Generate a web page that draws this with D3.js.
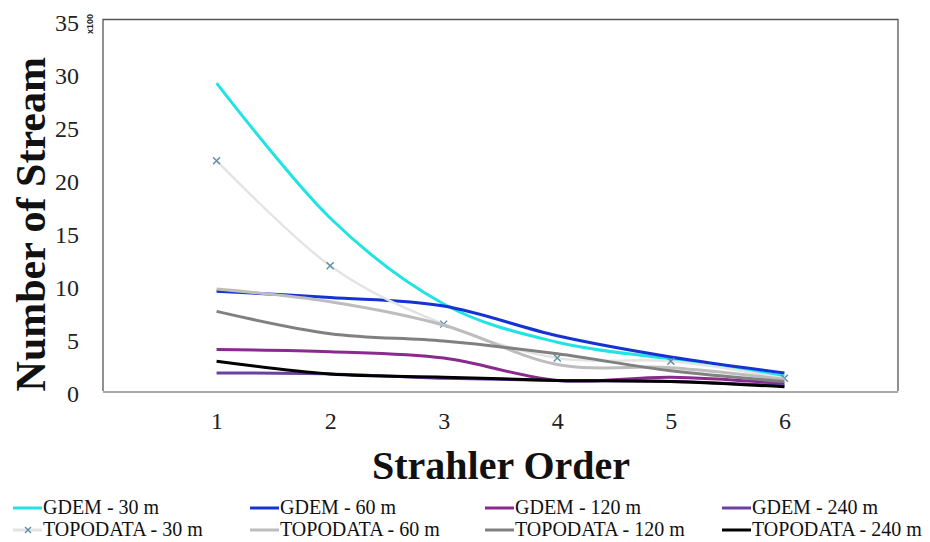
<!DOCTYPE html>
<html>
<head>
<meta charset="utf-8">
<script src="https://cdn.jsdelivr.net/npm/d3@7"></script>
<style>
  html, body { margin: 0; padding: 0; background: #fff; }
  svg { display: block; }
</style>
</head>
<body>
<svg id="chart" width="930" height="542"></svg>
<script>
// ---- data ----
const orders = [1, 2, 3, 4, 5, 6];
const yTicks = [0, 5, 10, 15, 20, 25, 30, 35];
const seriesNames = ["GDEM - 30 m", "GDEM - 60 m", "GDEM - 120 m", "GDEM - 240 m",
                     "TOPODATA - 30 m", "TOPODATA - 60 m", "TOPODATA - 120 m", "TOPODATA - 240 m"];
const gdem30  = [29.0, 16.3, 8.2, 4.6, 3.0, 1.4];
const gdem60  = [9.4, 8.8, 8.0, 5.2, 3.2, 1.7];
const gdem120 = [3.9, 3.7, 3.1, 1.0, 1.3, 0.7];
const gdem240 = [1.7, 1.6, 1.2, 1.0, 0.9, 0.5];
const topo30  = [21.7, 11.8, 6.3, 3.1, 2.8, 1.2];
const topo60  = [9.6, 8.4, 6.2, 2.5, 2.2, 1.1];
const topo120 = [7.5, 5.4, 4.7, 3.5, 1.9, 0.9];
const topo240 = [2.8, 1.6, 1.3, 1.0, 0.9, 0.4];
const colors = ["#22e3e3", "#1533d2", "#8a2a8e", "#6a40a3",
                "#e3e3e3", "#bdbdbd", "#808080", "#000000"];

const seriesValues = [gdem30, gdem60, gdem120, gdem240, topo30, topo60, topo120, topo240];
const series = seriesNames.map((name, i) => ({
  name, color: colors[i], values: seriesValues[i], markers: name === "TOPODATA - 30 m"
}));

// ---- layout ----
const svg = d3.select("#chart");
const L = 103, R = 898, T = 19.5, B = 391;
const x = d3.scaleLinear().domain([0, 7]).range([L, R]);
const y = d3.scaleLinear().domain([0, 35]).range([B, T]);
const serif = "'Liberation Serif', 'Times New Roman', serif";

// frame
svg.append("path")
  .attr("d", `M${L},${B} V${T} H${R} V${B}`)
  .attr("fill", "none").attr("stroke", "#555").attr("stroke-width", 1.3);

// y axis labels
const yAxis = d3.axisLeft(y).tickValues(yTicks).tickSize(0).tickPadding(0);
const yg = svg.append("g").attr("transform", `translate(${L - 24},3)`).call(yAxis);
yg.select(".domain").remove();
yg.selectAll("text").attr("font-family", serif).attr("font-size", 24).attr("fill", "#222");

// x axis labels
const xAxis = d3.axisBottom(x).tickValues(orders).tickSize(0).tickPadding(0).tickFormat(d3.format("d"));
const xg = svg.append("g").attr("transform", `translate(0,${B + 21})`).call(xAxis);
xg.select(".domain").remove();
xg.selectAll("text").attr("font-family", serif).attr("font-size", 24).attr("fill", "#222");

// bottom axis line
svg.append("line").attr("x1", L).attr("x2", R).attr("y1", B + 1).attr("y2", B + 1)
  .attr("stroke", "#aaa").attr("stroke-width", 2);

// x100 label
svg.append("text").attr("transform", `translate(93,24) rotate(-90)`)
  .attr("text-anchor", "middle").attr("font-family", "Arial, sans-serif")
  .attr("font-size", 9).attr("font-weight", "bold").attr("fill", "#222").text("x100");

// axis titles
svg.append("text").attr("transform", `translate(45,${(T + B) / 2 + 19}) rotate(-90)`)
  .attr("text-anchor", "middle").attr("font-family", serif).attr("font-weight", "bold")
  .attr("font-size", 42).attr("fill", "#111").text("Number of Stream");
svg.append("text").attr("x", 501).attr("y", 479)
  .attr("text-anchor", "middle").attr("font-family", serif).attr("font-weight", "bold")
  .attr("font-size", 40).attr("fill", "#111").text("Strahler Order");

// lines
const line = d3.line()
  .x((d, i) => x(orders[i]))
  .y(d => y(d))
  .curve(d3.curveCardinal.tension(0));

const xMark = (g, cx, cy, s) => {
  g.append("path")
    .attr("d", `M${cx - s},${cy - s} L${cx + s},${cy + s} M${cx - s},${cy + s} L${cx + s},${cy - s}`)
    .attr("stroke", "#5b8fa6").attr("stroke-width", 1.4).attr("fill", "none");
};

const lg = svg.append("g");
series.forEach(s => {
  lg.append("path").datum(s.values)
    .attr("d", line).attr("fill", "none")
    .attr("stroke", s.color).attr("stroke-width", s.markers ? 2.4 : 3)
    .attr("stroke-linecap", "butt");
  if (s.markers) {
    s.values.forEach((v, i) => xMark(lg, x(orders[i]), y(v), 3.5));
  }
});

// legend
const colX = [13, 250, 485, 722];
const rowY = [508, 530];
series.forEach((s, i) => {
  const c = i % 4, r = Math.floor(i / 4);
  const g = svg.append("g");
  g.append("line").attr("x1", colX[c]).attr("x2", colX[c] + 29)
    .attr("y1", rowY[r]).attr("y2", rowY[r])
    .attr("stroke", s.color).attr("stroke-width", 3);
  if (s.markers) xMark(g, colX[c] + 15, rowY[r], 3);
  g.append("text").attr("x", colX[c] + 30).attr("y", rowY[r] + 6)
    .attr("font-family", serif).attr("font-size", 20).attr("fill", "#111").text(s.name);
});
</script>
</body>
</html>
